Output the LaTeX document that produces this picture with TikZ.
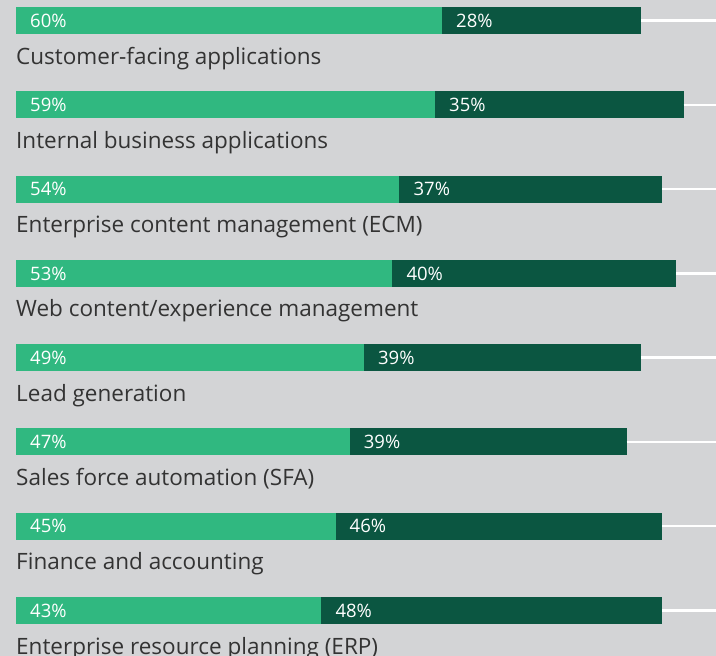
\documentclass[tikz,border=0pt]{standalone}
\usepackage{fontspec}
\setmainfont{Open Sans}
\usepackage{xcolor}
\usetikzlibrary{positioning}
\definecolor{bggray}{HTML}{D3D4D6}
\definecolor{lightgreen}{HTML}{30B880}
\definecolor{darkgreen}{HTML}{0B5641}
\definecolor{textgray}{HTML}{333333}
\tikzset{%
	lightbar/.style = {fill=lightgreen, rectangle, inner sep=0pt, outer sep=0pt, minimum height=27pt, anchor=north west}, % first share
	darkbar/.style  = {fill=darkgreen, rectangle, inner sep=0pt, outer sep=0pt, minimum height=27pt}, % second share
	pct/.style      = {text=white, anchor=west, inner sep=0pt, font=\fontsize{18.5}{22}\selectfont}, % value
	cat/.style      = {text=textgray, anchor=base west, inner sep=0pt, font=\fontsize{22.5}{26}\selectfont}, % category
	rule/.style     = {draw=white, line width=2.5pt}, % leader line
}

\begin{document}
\begin{tikzpicture}[x=1pt, y=-1pt, node distance = 0pt]
		\useasboundingbox (0,0) rectangle (716,656);
		\fill[bggray] (0,0) rectangle (716,656);
		\coordinate (edge) at (716,0);
		% Customer-facing applications
		\node[lightbar, minimum width=426pt] (l1) at (16,7) {};
		\node[darkbar, right=of l1, minimum width=199pt] (d1) {};
		\node[pct] (p1) at ([xshift=14pt]l1.west) {60\%};
		\node[pct] (q1) at ([xshift=14pt]d1.west) {28\%};
		\node[cat] (c1) at ([yshift=-30pt]l1.south west) {Customer-facing applications};
		\draw[rule] (d1.east) -- (d1.east -| edge);
		% Internal business applications
		\node[lightbar, minimum width=419pt] (l2) at (16,91.3) {};
		\node[darkbar, right=of l2, minimum width=248.5pt] (d2) {};
		\node[pct] (p2) at ([xshift=14pt]l2.west) {59\%};
		\node[pct] (q2) at ([xshift=14pt]d2.west) {35\%};
		\node[cat] (c2) at ([yshift=-30pt]l2.south west) {Internal business applications};
		\draw[rule] (d2.east) -- (d2.east -| edge);
		% ECM
		\node[lightbar, minimum width=383.4pt] (l3) at (16,175.6) {};
		\node[darkbar, right=of l3, minimum width=262.7pt] (d3) {};
		\node[pct] (p3) at ([xshift=14pt]l3.west) {54\%};
		\node[pct] (q3) at ([xshift=14pt]d3.west) {37\%};
		\node[cat] (c3) at ([yshift=-30pt]l3.south west) {Enterprise content management (ECM)};
		\draw[rule] (d3.east) -- (d3.east -| edge);
		% Web content
		\node[lightbar, minimum width=376.3pt] (l4) at (16,259.9) {};
		\node[darkbar, right=of l4, minimum width=284pt] (d4) {};
		\node[pct] (p4) at ([xshift=14pt]l4.west) {53\%};
		\node[pct] (q4) at ([xshift=14pt]d4.west) {40\%};
		\node[cat] (c4) at ([yshift=-30pt]l4.south west) {Web content/experience management};
		\draw[rule] (d4.east) -- (d4.east -| edge);
		% Lead generation
		\node[lightbar, minimum width=347.9pt] (l5) at (16,344.1) {};
		\node[darkbar, right=of l5, minimum width=276.9pt] (d5) {};
		\node[pct] (p5) at ([xshift=14pt]l5.west) {49\%};
		\node[pct] (q5) at ([xshift=14pt]d5.west) {39\%};
		\node[cat] (c5) at ([yshift=-30pt]l5.south west) {Lead generation};
		\draw[rule] (d5.east) -- (d5.east -| edge);
		% SFA
		\node[lightbar, minimum width=333.7pt] (l6) at (16,428.4) {};
		\node[darkbar, right=of l6, minimum width=276.9pt] (d6) {};
		\node[pct] (p6) at ([xshift=14pt]l6.west) {47\%};
		\node[pct] (q6) at ([xshift=14pt]d6.west) {39\%};
		\node[cat] (c6) at ([yshift=-30pt]l6.south west) {Sales force automation (SFA)};
		\draw[rule] (d6.east) -- (d6.east -| edge);
		% Finance
		\node[lightbar, minimum width=319.5pt] (l7) at (16,512.7) {};
		\node[darkbar, right=of l7, minimum width=326.6pt] (d7) {};
		\node[pct] (p7) at ([xshift=14pt]l7.west) {45\%};
		\node[pct] (q7) at ([xshift=14pt]d7.west) {46\%};
		\node[cat] (c7) at ([yshift=-30pt]l7.south west) {Finance and accounting};
		\draw[rule] (d7.east) -- (d7.east -| edge);
		% ERP
		\node[lightbar, minimum width=305.3pt] (l8) at (16,597) {};
		\node[darkbar, right=of l8, minimum width=340.8pt] (d8) {};
		\node[pct] (p8) at ([xshift=14pt]l8.west) {43\%};
		\node[pct] (q8) at ([xshift=14pt]d8.west) {48\%};
		\node[cat] (c8) at ([yshift=-30pt]l8.south west) {Enterprise resource planning (ERP)};
		\draw[rule] (d8.east) -- (d8.east -| edge);
\end{tikzpicture}
\end{document}
